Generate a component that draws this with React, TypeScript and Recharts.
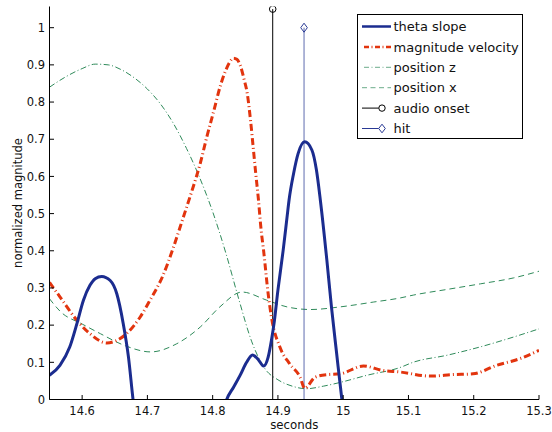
import React from 'react';
import { LineChart, Line, XAxis, YAxis, Legend, Label } from 'recharts';

const FONT = "'DejaVu Sans', 'Liberation Sans', sans-serif";

const thetaT = [14.55, 14.566, 14.581, 14.592, 14.602, 14.612, 14.62, 14.63, 14.643, 14.653, 14.663, 14.671, 14.678, 14.69, 14.72, 14.75, 14.78, 14.805, 14.8215, 14.832, 14.842, 14.852, 14.861, 14.87, 14.878, 14.885, 14.89, 14.894, 14.9, 14.908, 14.914, 14.917, 14.924, 14.931, 14.941, 14.952, 14.959, 14.965, 14.975, 14.982, 14.99, 14.998, 15.01, 15.03];
const thetaV = [0.065, 0.092, 0.141, 0.204, 0.267, 0.307, 0.325, 0.331, 0.32, 0.285, 0.204, 0.114, 0, -0.15, -0.35, -0.4, -0.3, -0.12, 0, 0.033, 0.065, 0.1, 0.12, 0.107, 0.09, 0.114, 0.159, 0.204, 0.294, 0.401, 0.491, 0.536, 0.608, 0.662, 0.693, 0.671, 0.617, 0.536, 0.374, 0.249, 0.123, 0, -0.15, -0.4];

const velT = [14.55, 14.566, 14.592, 14.612, 14.638, 14.653, 14.668, 14.689, 14.704, 14.724, 14.74, 14.755, 14.768, 14.781, 14.791, 14.802, 14.812, 14.82, 14.826, 14.832, 14.837, 14.842, 14.848, 14.853, 14.858, 14.862, 14.866, 14.87, 14.874, 14.878, 14.885, 14.89, 14.903, 14.918, 14.934, 14.941, 14.957, 14.975, 14.995, 15.031, 15.061, 15.087, 15.133, 15.169, 15.199, 15.235, 15.271, 15.3];
const velV = [0.315, 0.276, 0.213, 0.177, 0.152, 0.159, 0.177, 0.222, 0.267, 0.334, 0.41, 0.49, 0.56, 0.635, 0.706, 0.778, 0.845, 0.885, 0.907, 0.918, 0.915, 0.9, 0.862, 0.823, 0.751, 0.68, 0.608, 0.54, 0.46, 0.401, 0.285, 0.222, 0.141, 0.096, 0.06, 0.03, 0.06, 0.067, 0.069, 0.09, 0.078, 0.074, 0.063, 0.067, 0.069, 0.092, 0.11, 0.132];

const posZT = [14.55, 14.575, 14.6, 14.62, 14.64, 14.66, 14.68, 14.7, 14.72, 14.74, 14.76, 14.78, 14.8, 14.82, 14.84, 14.86, 14.88, 14.9, 14.92, 14.944, 14.97, 15.0, 15.036, 15.087, 15.107, 15.159, 15.209, 15.261, 15.3];
const posZV = [0.84, 0.868, 0.89, 0.902, 0.9, 0.887, 0.865, 0.835, 0.795, 0.742, 0.675, 0.597, 0.505, 0.395, 0.27, 0.155, 0.083, 0.053, 0.037, 0.029, 0.036, 0.048, 0.065, 0.086, 0.1, 0.119, 0.141, 0.168, 0.19];

const posXT = [14.55, 14.567, 14.6, 14.628, 14.664, 14.705, 14.745, 14.781, 14.811, 14.845, 14.883, 14.914, 14.95, 14.995, 15.046, 15.087, 15.108, 15.159, 15.21, 15.261, 15.3];
const posXV = [0.271, 0.236, 0.203, 0.177, 0.146, 0.128, 0.15, 0.195, 0.249, 0.289, 0.267, 0.249, 0.242, 0.249, 0.262, 0.273, 0.281, 0.296, 0.311, 0.327, 0.345];

const audioOnsetT = 14.892;
const audioOnsetTop = 1.05;
const hitT = 14.94;
const hitTop = 1.0;

const xTicks = [14.6, 14.7, 14.8, 14.9, 15, 15.1, 15.2, 15.3];
const yTicks = [0, 0.1, 0.2, 0.3, 0.4, 0.5, 0.6, 0.7, 0.8, 0.9, 1];

const BLUE = '#1b2c8f';
const RED = '#e2340e';
const GREEN = '#2f8a5a';
const HITBLUE = '#2a3a95';

const zip = (ts: number[], vs: number[]) => ts.map((t, i) => ({ t, v: vs[i] }));
const theta = zip(thetaT, thetaV);
const vel = zip(velT, velV);
const posZ = zip(posZT, posZV);
const posX = zip(posXT, posXV);
const onset = [{ t: audioOnsetT, v: 0 }, { t: audioOnsetT, v: audioOnsetTop }];
const hit = [{ t: hitT, v: 0 }, { t: hitT, v: hitTop }];

const fmt = (v: number) => String(Math.round(v * 100) / 100);

const XTick = (props: any) => {
  const { x, y, payload } = props;
  return (
    <g>
      <line x1={x} x2={x} y1={y} y2={y - 4.5} stroke="#000" strokeWidth={1} />
      <text x={x} y={y + 15.5} textAnchor="middle" fontFamily={FONT} fontSize={11.5} fill="#111">
        {fmt(payload.value)}
      </text>
    </g>
  );
};

const YTick = (props: any) => {
  const { x, y, payload } = props;
  return (
    <g>
      <line x1={x} x2={x + 4.5} y1={y} y2={y} stroke="#000" strokeWidth={1} />
      <text x={x - 4.5} y={y + 4.2} textAnchor="end" fontFamily={FONT} fontSize={11.5} fill="#111">
        {fmt(payload.value)}
      </text>
    </g>
  );
};

const XLabel = (props: any) => {
  const vb = props.viewBox || {};
  return (
    <text x={vb.x + vb.width / 2} y={vb.y + 29} textAnchor="middle" fontFamily={FONT} fontSize={11.8} fill="#111">
      seconds
    </text>
  );
};

const YLabel = (props: any) => {
  const vb = props.viewBox || {};
  const cx = 21.5;
  const cy = vb.y + vb.height / 2;
  return (
    <text x={cx} y={cy} transform={`rotate(-90, ${cx}, ${cy})`} textAnchor="middle" fontFamily={FONT} fontSize={11.5} fill="#111">
      normalized magnitude
    </text>
  );
};

const OnsetDot = (props: any) => {
  const { cx, cy, index } = props;
  if (index !== 1) return <g key={`o${index}`} />;
  return <circle key={`o${index}`} cx={cx} cy={cy} r={3.3} fill="none" stroke="#000" strokeWidth={1} />;
};

const HitDot = (props: any) => {
  const { cx, cy, index } = props;
  if (index !== 1) return <g key={`h${index}`} />;
  return (
    <polygon
      key={`h${index}`}
      points={`${cx},${cy - 4.5} ${cx + 3.3},${cy} ${cx},${cy + 4.5} ${cx - 3.3},${cy}`}
      fill="none"
      stroke={HITBLUE}
      strokeWidth={1}
    />
  );
};

const legendRows = [
  { name: 'theta slope', kind: 'theta' },
  { name: 'magnitude velocity', kind: 'vel' },
  { name: 'position z', kind: 'z' },
  { name: 'position x', kind: 'x' },
  { name: 'audio onset', kind: 'onset' },
  { name: 'hit', kind: 'hit' },
];

const LegendBox = () => {
  const rowY = (i: number) => 12.5 + i * 20.4;
  return (
    <svg width={166} height={125} style={{ display: 'block' }}>
      <rect x={0.5} y={0.5} width={165} height={124} fill="#fff" stroke="#000" strokeWidth={1} />
      {legendRows.map((r, i) => {
        const y = rowY(i);
        let sample: any = null;
        if (r.kind === 'theta') sample = <line x1={5} x2={34} y1={y} y2={y} stroke={BLUE} strokeWidth={2.5} />;
        if (r.kind === 'vel') sample = <line x1={5} x2={34} y1={y} y2={y} stroke={RED} strokeWidth={2.5} strokeDasharray="5 2.5 1 2.5" strokeDashoffset={-2} />;
        if (r.kind === 'z') sample = <line x1={5} x2={34} y1={y} y2={y} stroke={GREEN} strokeWidth={1} strokeDasharray="5 2.5 1 2.5" strokeDashoffset={-2} opacity={0.7} />;
        if (r.kind === 'x') sample = <line x1={5} x2={34} y1={y} y2={y} stroke={GREEN} strokeWidth={1} strokeDasharray="5 3.5" opacity={0.7} />;
        if (r.kind === 'onset')
          sample = (
            <g>
              <line x1={5} x2={21.7} y1={y} y2={y} stroke="#000" strokeWidth={1} />
              <circle cx={25} cy={y} r={3.2} fill="none" stroke="#000" strokeWidth={1} />
            </g>
          );
        if (r.kind === 'hit')
          sample = (
            <g>
              <line x1={5} x2={21.7} y1={y} y2={y} stroke={HITBLUE} strokeWidth={1} />
              <polygon points={`25,${y - 4.3} 28.3,${y} 25,${y + 4.3} 21.7,${y}`} fill="none" stroke={HITBLUE} strokeWidth={1} />
            </g>
          );
        return (
          <g key={r.name}>
            {sample}
            <text x={36.5} y={y + 4.6} fontFamily={FONT} fontSize={13} fill="#111">
              {r.name}
            </text>
          </g>
        );
      })}
    </svg>
  );
};

export default function App() {
  return (
    <div style={{ position: 'absolute', left: 0, top: 0, width: 552, height: 432, background: '#fff' }}>
      <LineChart width={552} height={432} margin={{ top: 6.5, right: 13, bottom: 0, left: 0 }}>
        <XAxis
          dataKey="t"
          type="number"
          domain={[14.55, 15.3]}
          ticks={xTicks}
          allowDataOverflow
          tickSize={0}
          tickMargin={0}
          tickLine={false}
          axisLine={{ stroke: '#000', strokeWidth: 1 }}
          tick={XTick}
          height={32.5}
          interval={0}
        >
          <Label content={XLabel} />
        </XAxis>
        <YAxis
          type="number"
          domain={[0, 1.057]}
          ticks={yTicks}
          allowDataOverflow
          tickSize={0}
          tickMargin={0}
          tickLine={false}
          axisLine={{ stroke: '#000', strokeWidth: 1 }}
          tick={YTick}
          width={49.5}
          interval={0}
        >
          <Label content={YLabel} />
        </YAxis>
        <Legend
          layout="horizontal"
          verticalAlign="middle"
          align="center"
          wrapperStyle={{ position: 'absolute', left: 357, top: 14, width: 166, height: 125 }}
          content={LegendBox}
        />
        <Line data={posZ} dataKey="v" name="position z" type="monotone" stroke={GREEN} strokeWidth={1} strokeDasharray="6 2.5 1 2.5" dot={false} isAnimationActive={false} />
        <Line data={posX} dataKey="v" name="position x" type="monotone" stroke={GREEN} strokeWidth={1} strokeDasharray="6 4" dot={false} isAnimationActive={false} />
        <Line data={onset} dataKey="v" name="audio onset" type="linear" stroke="#000" strokeWidth={1} dot={OnsetDot} activeDot={false} isAnimationActive={false} />
        <Line data={hit} dataKey="v" name="hit" type="linear" stroke={HITBLUE} strokeWidth={1} strokeOpacity={0.75} dot={HitDot} activeDot={false} isAnimationActive={false} />
        <Line data={vel} dataKey="v" name="magnitude velocity" type="monotone" stroke={RED} strokeWidth={3} strokeDasharray="7 3 1 3" dot={false} isAnimationActive={false} />
        <Line data={theta} dataKey="v" name="theta slope" type="monotone" stroke={BLUE} strokeWidth={3} dot={false} isAnimationActive={false} />
      </LineChart>
    </div>
  );
}
